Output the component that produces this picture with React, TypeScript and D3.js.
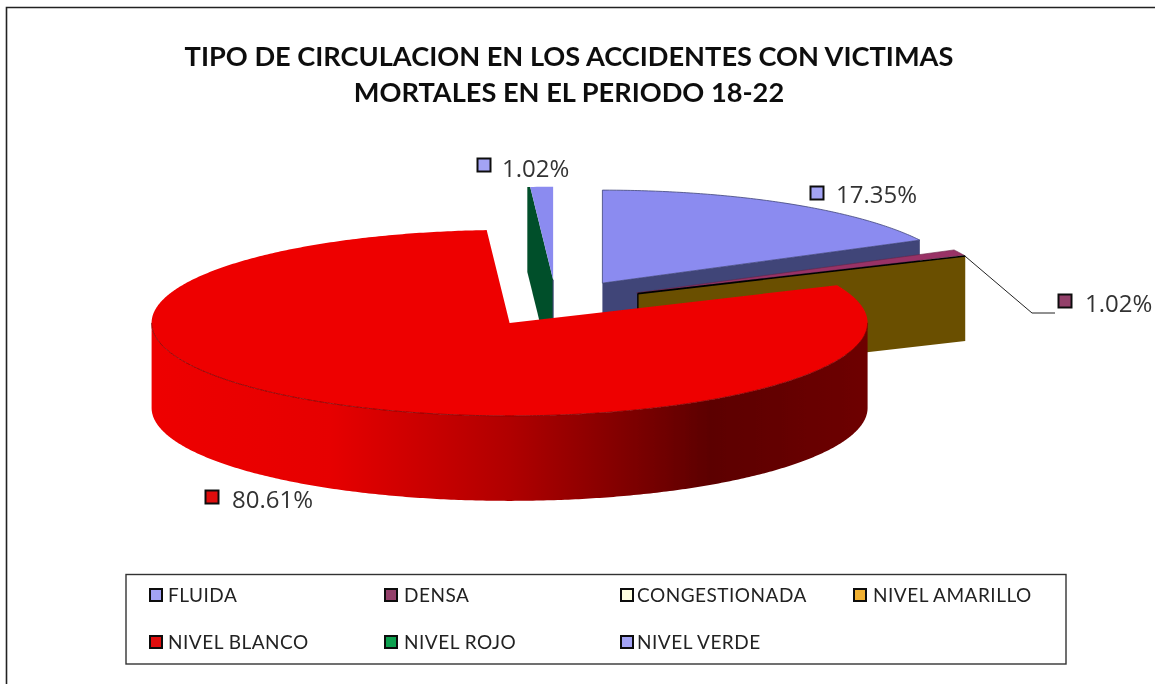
import React from "react";
import * as d3 from "d3";

const categories = ["FLUIDA", "DENSA", "CONGESTIONADA", "NIVEL AMARILLO", "NIVEL BLANCO", "NIVEL ROJO", "NIVEL VERDE"];
const percents = [17.35, 1.02, 0, 0, 80.61, 0, 1.02];
const topColors = ["#8b8bf0", "#993366", "#ffffcc", "#d09a10", "#ee0000", "#00a050", "#8b8bf0"];
const wallColors = ["#3f4478", "#5c1f3d", "#6b6b50", "#6b4f00", "#8a0000", "#064f2c", "#3f4478"];
const swatchColors = ["#a3a3f5", "#93406a", "#ffffe0", "#f0b030", "#e01010", "#10a050", "#a3a3f5"];
const titleLines = ["TIPO DE CIRCULACION EN LOS ACCIDENTES CON VICTIMAS", "MORTALES EN EL PERIODO 18-22"];

const W = 1155, H = 684;
const CX = 556, CY = 303, RX = 358, RY = 93, DEPTH = 85, EXPLODE = 0.25;
const FONT = "Lato, Carlito, Calibri, sans-serif";
const LABEL_FONT = "'Open Sans', 'Segoe UI', sans-serif";

const arcs = d3.pie<number>().value((d) => d).sort(null)(percents);

type P = [number, number];
const line = d3.line<P>();
const rim = (c: P, a: number): P => [c[0] + RX * Math.sin(a), c[1] - RY * Math.cos(a)];

const centres: P[] = arcs.map((a) => {
  const m = (a.startAngle + a.endAngle) / 2;
  return [CX + EXPLODE * RX * Math.sin(m), CY - EXPLODE * RY * Math.cos(m)];
});

const sweep = (c: P, a0: number, a1: number): P[] => {
  const n = Math.max(2, Math.ceil(Math.abs(a1 - a0) / 0.01));
  return d3.range(n + 1).map((i) => rim(c, a0 + ((a1 - a0) * i) / n));
};
const topPath = (i: number) => {
  const c = centres[i], a = arcs[i];
  return line([c, ...sweep(c, a.startAngle, a.endAngle)])! + "Z";
};
const wallPath = (c: P, angle: number) => {
  const r = rim(c, angle);
  return line([c, r, [r[0], r[1] + DEPTH], [c[0], c[1] + DEPTH]])! + "Z";
};
const idx = (name: string) => categories.indexOf(name);
const iF = idx("FLUIDA"), iD = idx("DENSA"), iA = idx("NIVEL AMARILLO"), iB = idx("NIVEL BLANCO"), iR = idx("NIVEL ROJO"), iV = idx("NIVEL VERDE");

const sideBand = (i: number) => {
  const c = centres[i];
  const upper = sweep(c, Math.PI / 2, (3 * Math.PI) / 2);
  const lower = upper.map(([x, y]) => [x, y + DEPTH] as P).reverse();
  return line([...upper, ...lower])! + "Z";
};

const labels = [
  { i: iV, sx: 484, sy: 165, tx: 502, ty: 177 },
  { i: iF, sx: 817, sy: 193, tx: 836, ty: 203 },
  { i: iD, sx: 1065, sy: 301, tx: 1085, ty: 312 },
  { i: iB, sx: 212, sy: 497, tx: 232, ty: 508 },
];

const legendCols = [156, 391, 627, 860];
const legendTextCols = [168, 404, 637, 873];
const legendRows = [595, 642];

export default function App() {
  const densaRim = rim(centres[iD], arcs[iD].endAngle);
  const down = ([x, y]: P): P => [x, y + DEPTH];
  const rojoRim = rim(centres[iR], arcs[iR].startAngle);
  const verdeRim = rim(centres[iV], arcs[iV].startAngle);
  const seam = line([rojoRim, verdeRim, centres[iV], down(centres[iV]), down(centres[iR]), down(rojoRim)])! + "Z";
  return (
    <svg width={W} height={H} style={{ position: "absolute", left: 0, top: 0, display: "block", background: "#fff" }}>
      <defs>
        <linearGradient id="side" gradientUnits="userSpaceOnUse" x1={152} x2={868} y1={0} y2={0}>
          <stop offset="0" stopColor="#ee0000" />
          <stop offset="0.25" stopColor="#e60000" />
          <stop offset="0.5" stopColor="#b00000" />
          <stop offset="0.78" stopColor="#5c0000" />
          <stop offset="1" stopColor="#6e0000" />
        </linearGradient>
        <filter id="soft" filterUnits="userSpaceOnUse" x={0} y={0} width={W} height={H}>
          <feGaussianBlur stdDeviation={0.45} />
        </filter>
      </defs>

      <g filter="url(#soft)">
        <rect x={0} y={0} width={W} height={H} fill="#fff" />
        <path d="M6.5,684V7.5H1155" fill="none" stroke="#222" strokeWidth={1.6} />

        <g fontFamily={FONT} fontWeight={700} fontSize={27.2} fill="#111" textAnchor="middle">
          {titleLines.map((t, k) => (
            <text key={k} x={569} y={66 + k * 36}>{t}</text>
          ))}
        </g>

        <path d={wallPath(centres[iF], arcs[iF].endAngle)} fill={wallColors[iF]} />
        <path d={topPath(iF)} fill={topColors[iF]} stroke="#3f4478" strokeWidth={0.8} />

        <path d={wallPath(centres[iA], arcs[iA].startAngle)} fill={wallColors[iA]} />
        <path d={topPath(iD)} fill={topColors[iD]} stroke="#6a2548" strokeWidth={0.6} />
        <path d={line([centres[iA], rim(centres[iA], arcs[iA].startAngle)])!} stroke="#000" strokeWidth={1.6} fill="none" />
        <path d={line([centres[iA], down(centres[iA])])!} stroke="#000" strokeWidth={1.4} fill="none" />

        <path d={seam} fill={wallColors[iR]} />
        <path d={line([centres[iV], down(centres[iV])])!} stroke="#3f4478" strokeWidth={1} fill="none" />
        <path d={topPath(iV)} fill={topColors[iV]} />

        <path d={sideBand(iB)} fill="url(#side)" />
        <path d={topPath(iB)} fill={topColors[iB]} />
        <path d={line(sweep(centres[iB], Math.PI / 2, (3 * Math.PI) / 2))!} fill="none" stroke="#7a0000" strokeWidth={0.8} />

        <path d={line([densaRim, [1032, 313], [1055, 313]])!} fill="none" stroke="#222" strokeWidth={1} />

        {labels.map(({ i, sx, sy, tx, ty }) => (
          <g key={i}>
            <rect x={sx - 6.5} y={sy - 6.5} width={13} height={13} fill={swatchColors[i]} stroke="#111" strokeWidth={2} />
            <text x={tx} y={ty} fontFamily={LABEL_FONT} fontSize={24} fill="#333">
              {d3.format(".2f")(percents[i])}%
            </text>
          </g>
        ))}

        <rect x={126} y={574.5} width={940} height={89.5} fill="#fff" stroke="#333" strokeWidth={1.4} />
        {categories.map((c, i) => {
          const col = i % 4, y = legendRows[Math.floor(i / 4)];
          const x = legendCols[col];
          return (
            <g key={c}>
              <rect x={x - 6} y={y - 6} width={12} height={12} fill={swatchColors[i]} stroke="#111" strokeWidth={2} />
              <text x={legendTextCols[col]} y={y + 7} fontFamily={FONT} fontSize={19} fill="#222" letterSpacing={0.5}>{c}</text>
            </g>
          );
        })}
      </g>
    </svg>
  );
}
